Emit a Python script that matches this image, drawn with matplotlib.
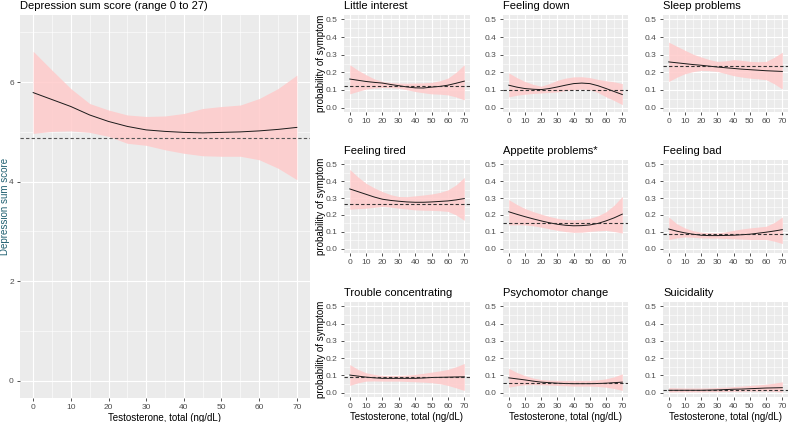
import numpy as np
import matplotlib.pyplot as plt

plt.rcParams['font.family'] = ['Liberation Sans', 'DejaVu Sans']

x = list(range(0, 71, 5))

# main panel: depression sum score
dep_fit = [5.79, 5.65, 5.51, 5.34, 5.21, 5.11, 5.04, 5.01, 4.99, 4.98, 4.99, 5.00, 5.02, 5.05, 5.09]
dep_lo = [4.97, 5.01, 5.02, 4.99, 4.91, 4.77, 4.73, 4.64, 4.57, 4.52, 4.51, 4.51, 4.44, 4.27, 4.04]
dep_hi = [6.62, 6.24, 5.87, 5.57, 5.44, 5.34, 5.31, 5.32, 5.37, 5.47, 5.51, 5.54, 5.67, 5.87, 6.14]
dep_ref = 4.88

titles = ["Little interest", "Feeling down", "Sleep problems",
          "Feeling tired", "Appetite problems*", "Feeling bad",
          "Trouble concentrating", "Psychomotor change", "Suicidality"]

fits = [
    [0.162, 0.155, 0.148, 0.143, 0.139, 0.131, 0.124, 0.117, 0.112, 0.111, 0.116, 0.120, 0.127, 0.138, 0.150],
    [0.127, 0.116, 0.108, 0.104, 0.102, 0.108, 0.117, 0.127, 0.136, 0.139, 0.136, 0.124, 0.108, 0.091, 0.074],
    [0.259, 0.254, 0.249, 0.244, 0.240, 0.235, 0.230, 0.226, 0.222, 0.218, 0.215, 0.212, 0.209, 0.207, 0.205],
    [0.354, 0.338, 0.322, 0.306, 0.293, 0.286, 0.281, 0.277, 0.275, 0.275, 0.277, 0.280, 0.283, 0.289, 0.297],
    [0.219, 0.204, 0.190, 0.177, 0.165, 0.154, 0.145, 0.139, 0.136, 0.137, 0.141, 0.150, 0.165, 0.183, 0.205],
    [0.117, 0.104, 0.094, 0.086, 0.080, 0.078, 0.078, 0.079, 0.080, 0.083, 0.086, 0.092, 0.098, 0.105, 0.113],
    [0.102, 0.096, 0.090, 0.086, 0.083, 0.083, 0.083, 0.083, 0.083, 0.085, 0.088, 0.089, 0.090, 0.091, 0.092],
    [0.086, 0.080, 0.074, 0.067, 0.061, 0.058, 0.055, 0.053, 0.052, 0.052, 0.052, 0.053, 0.055, 0.058, 0.061],
    [0.014, 0.014, 0.014, 0.014, 0.014, 0.015, 0.016, 0.018, 0.020, 0.021, 0.023, 0.025, 0.027, 0.028, 0.029],
]
lows = [
    [0.078, 0.092, 0.105, 0.111, 0.114, 0.113, 0.110, 0.101, 0.091, 0.084, 0.078, 0.076, 0.072, 0.060, 0.044],
    [0.061, 0.070, 0.076, 0.080, 0.083, 0.086, 0.089, 0.096, 0.102, 0.105, 0.102, 0.085, 0.061, 0.040, 0.017],
    [0.148, 0.172, 0.192, 0.204, 0.211, 0.209, 0.205, 0.193, 0.181, 0.173, 0.167, 0.163, 0.158, 0.135, 0.105],
    [0.234, 0.237, 0.240, 0.245, 0.250, 0.246, 0.240, 0.235, 0.230, 0.228, 0.227, 0.225, 0.221, 0.200, 0.168],
    [0.141, 0.142, 0.141, 0.136, 0.128, 0.118, 0.109, 0.102, 0.097, 0.098, 0.103, 0.106, 0.109, 0.102, 0.093],
    [0.055, 0.064, 0.070, 0.068, 0.064, 0.063, 0.063, 0.061, 0.059, 0.057, 0.055, 0.055, 0.055, 0.045, 0.031],
    [0.042, 0.057, 0.067, 0.068, 0.067, 0.067, 0.067, 0.065, 0.063, 0.061, 0.058, 0.052, 0.042, 0.028, 0.013],
    [0.032, 0.040, 0.046, 0.047, 0.046, 0.044, 0.042, 0.040, 0.038, 0.038, 0.038, 0.036, 0.032, 0.024, 0.013],
    [0.004, 0.005, 0.005, 0.005, 0.005, 0.006, 0.006, 0.007, 0.008, 0.008, 0.009, 0.009, 0.010, 0.008, 0.004],
]
highs = [
    [0.243, 0.212, 0.186, 0.163, 0.148, 0.142, 0.139, 0.138, 0.139, 0.140, 0.143, 0.152, 0.167, 0.200, 0.243],
    [0.197, 0.170, 0.148, 0.132, 0.121, 0.136, 0.155, 0.167, 0.174, 0.175, 0.170, 0.160, 0.152, 0.146, 0.136],
    [0.371, 0.348, 0.325, 0.303, 0.287, 0.272, 0.262, 0.265, 0.272, 0.268, 0.262, 0.260, 0.262, 0.285, 0.314],
    [0.469, 0.425, 0.387, 0.360, 0.338, 0.320, 0.309, 0.308, 0.313, 0.318, 0.324, 0.333, 0.348, 0.378, 0.422],
    [0.291, 0.262, 0.238, 0.220, 0.205, 0.191, 0.180, 0.174, 0.171, 0.174, 0.180, 0.195, 0.219, 0.258, 0.310],
    [0.188, 0.148, 0.123, 0.107, 0.098, 0.095, 0.094, 0.100, 0.109, 0.117, 0.123, 0.128, 0.133, 0.155, 0.188],
    [0.163, 0.135, 0.115, 0.106, 0.100, 0.100, 0.100, 0.102, 0.106, 0.112, 0.119, 0.126, 0.135, 0.150, 0.169],
    [0.141, 0.117, 0.099, 0.085, 0.076, 0.073, 0.071, 0.071, 0.071, 0.071, 0.071, 0.074, 0.080, 0.092, 0.109],
    [0.029, 0.028, 0.027, 0.027, 0.027, 0.028, 0.030, 0.032, 0.035, 0.038, 0.042, 0.045, 0.049, 0.055, 0.063],
]
refs = [0.120, 0.100, 0.234, 0.264, 0.151, 0.088, 0.092, 0.055, 0.014]

W, H = 789, 422
BG = '#EBEBEB'
TXT = '#4D4D4D'
RIB = '#FFCACA'


def px_axes(fig, x0, y0, x1, y1):
    return fig.add_axes([x0 / W, 1 - y1 / H, (x1 - x0) / W, (y1 - y0) / H])


def style(ax, yt, ymin, ymax, yminor):
    ax.set_facecolor(BG)
    for s in ax.spines.values():
        s.set_visible(False)
    ax.set_xlim(-3.5, 73.5)
    ax.set_ylim(ymin, ymax)
    ax.set_xticks(range(0, 71, 10))
    ax.set_xticks(range(5, 70, 10), minor=True)
    ax.set_yticks(yt)
    ax.set_yticks(yminor, minor=True)
    ax.grid(which='major', color='white', lw=0.8)
    ax.grid(which='minor', color='white', lw=0.4)
    ax.set_axisbelow(True)
    ax.tick_params(which='major', length=2.5, width=0.6, color='#333333',
                   labelsize=6, labelcolor=TXT, pad=2)
    ax.tick_params(which='minor', length=0)


fig = plt.figure(figsize=(W / 100, H / 100), dpi=100)

# main panel
ax = px_axes(fig, 20, 15, 310, 398)
style(ax, [0, 2, 4, 6], -0.35, 7.35, [1, 3, 5, 7])
ax.fill_between(x, dep_lo, dep_hi, color=RIB, lw=0, alpha=0.85)
ax.plot(x, dep_fit, color='#1a1a1a', lw=0.7)
ax.axhline(dep_ref, color='#555555', lw=0.8, ls=(0, (3, 2)))
ax.set_title("Depression sum score (range 0 to 27)", loc='left', fontsize=8, pad=4)
ax.set_xlabel("Testosterone, total (ng/dL)", fontsize=7, labelpad=1)
ax.set_ylabel("Depression sum score", fontsize=7, color='#1f5f70')
ax.yaxis.set_label_coords(-0.034, 0.5)

cols = [(344, 470), (503, 628), (663, 788)]
rows = [(15, 112), (160, 253), (302, 397)]

for i, t in enumerate(titles):
    r, c = divmod(i, 3)
    a = px_axes(fig, cols[c][0], rows[r][0], cols[c][1], rows[r][1])
    style(a, [0, 0.1, 0.2, 0.3, 0.4, 0.5], -0.025, 0.525,
          [0.05, 0.15, 0.25, 0.35, 0.45])
    a.set_yticklabels(['0.0', '0.1', '0.2', '0.3', '0.4', '0.5'])
    a.fill_between(x, lows[i], highs[i], color=RIB, lw=0, alpha=0.85)
    a.plot(x, fits[i], color='#1a1a1a', lw=0.7)
    a.axhline(refs[i], color='#333333', lw=0.8, ls=(0, (3, 2)))
    a.set_title(t, loc='left', fontsize=8, pad=4)
    if c == 0:
        a.set_ylabel("probability of symptom", fontsize=7)
        a.yaxis.set_label_coords(-0.14, 0.5)
    if r == 2:
        a.set_xlabel("Testosterone, total (ng/dL)", fontsize=7, labelpad=1)

fig.savefig('out.png', dpi=100)
